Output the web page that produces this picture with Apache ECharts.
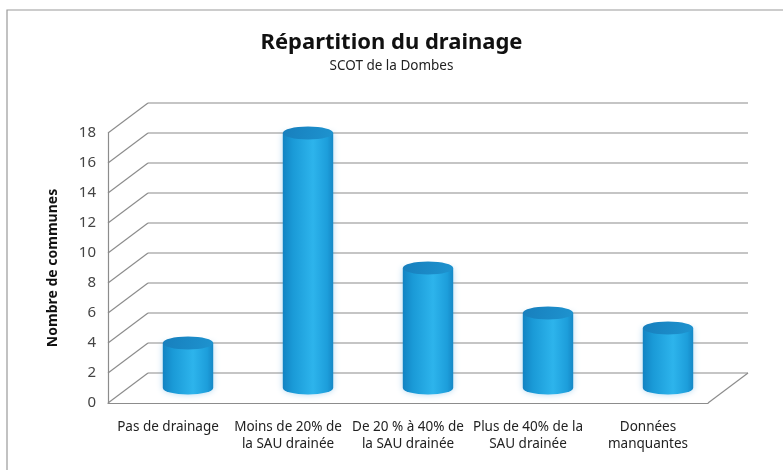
<!DOCTYPE html>
<html>
<head>
<meta charset="utf-8">
<script src="https://cdn.jsdelivr.net/npm/echarts@6/dist/echarts.min.js"></script>
<style>
  html, body { margin: 0; padding: 0; background: #fff; }
  #chart { width: 783px; height: 470px; }
</style>
</head>
<body>
<div id="chart"></div>
<script>
// Répartition du drainage — SCOT de la Dombes
const categories = [
  'Pas de drainage',
  'Moins de 20% de\nla SAU drainée',
  'De 20 % à 40% de\nla SAU drainée',
  'Plus de 40% de la\nSAU drainée',
  'Données\nmanquantes'
];
const communes = [3, 17, 8, 5, 4];
const yTicks = [0, 2, 4, 6, 8, 10, 12, 14, 16, 18];

const FONT = '"Noto Sans", "Open Sans", sans-serif';
// depth of the pseudo-3D box (back wall offset from front plane)
const DX = 40, DY = -30;
const LINE = '#8c8c8c';

const chart = echarts.init(document.getElementById('chart'));

function renderWalls(params, api) {
  const v = api.value(0);
  const cs = params.coordSys;
  const left = cs.x, right = cs.x + cs.width;
  const y = api.coord([0, v])[1];
  const style = { stroke: LINE, lineWidth: 1.2 };
  const children = [
    { type: 'line', shape: { x1: left + DX, y1: y + DY, x2: right + DX, y2: y + DY }, style },
    { type: 'line', shape: { x1: left, y1: y, x2: left + DX, y2: y + DY }, style }
  ];
  if (v === 0) {
    children.push({ type: 'line', shape: { x1: right, y1: y, x2: right + DX, y2: y + DY }, style });
  }
  return { type: 'group', children };
}

function renderCylinder(params, api) {
  const i = api.value(0);
  const top = api.coord([i, api.value(1)]);
  const base = api.coord([i, 0]);
  const band = api.size([1, 0])[0];
  const r = band * 0.21;
  const ry = 6.5;
  const cx = top[0] + DX / 2;
  const yT = top[1] + DY / 2;
  const yB = base[1] + DY / 2;
  const body = new echarts.graphic.LinearGradient(0, 0, 1, 0, [
    { offset: 0, color: '#1283c2' },
    { offset: 0.2, color: '#1a9ad7' },
    { offset: 0.6, color: '#2db4ec' },
    { offset: 0.88, color: '#1d9edb' },
    { offset: 1, color: '#1588c6' }
  ]);
  return {
    type: 'group',
    children: [
      {
        type: 'path',
        shape: {
          pathData: 'M' + (cx - r) + ',' + yT + 'L' + (cx - r) + ',' + yB +
            'A' + r + ',' + ry + ',0,0,0,' + (cx + r) + ',' + yB +
            'L' + (cx + r) + ',' + yT + 'Z'
        },
        style: { fill: body, shadowBlur: 6, shadowColor: 'rgba(30,140,210,0.35)' }
      },
      {
        type: 'ellipse',
        shape: { cx: cx, cy: yT, rx: r, ry: ry },
        style: {
          fill: new echarts.graphic.LinearGradient(0, 0, 1, 1, [
            { offset: 0, color: '#177fbd' },
            { offset: 1, color: '#1e93cf' }
          ])
        }
      }
    ]
  };
}

chart.setOption({
  backgroundColor: '#ffffff',
  animation: false,
  title: [
    {
      text: 'Répartition du drainage',
      left: 'center', top: 27,
      textStyle: { fontFamily: FONT, fontSize: 22, fontWeight: 'bold', color: '#111' }
    },
    {
      text: 'SCOT de la Dombes',
      left: 'center', top: 54,
      textStyle: { fontFamily: FONT, fontSize: 13.5, fontWeight: 'normal', color: '#222' }
    }
  ],
  graphic: [
    {
      type: 'rect', silent: true, z: -1,
      shape: { x: 7, y: 10, width: 800, height: 500 },
      style: { fill: 'none', stroke: '#9a9a9a', lineWidth: 1.2 }
    }
  ],
  grid: { left: 108, right: 75, top: 133, bottom: 67 },
  xAxis: {
    type: 'category',
    data: categories,
    axisLine: { show: true, lineStyle: { color: LINE, width: 1.2 } },
    axisTick: { show: false },
    axisLabel: {
      interval: 0, margin: 16,
      fontFamily: FONT, fontSize: 13.5, color: '#222', lineHeight: 17
    }
  },
  yAxis: {
    type: 'value',
    min: 0, max: 18, interval: 2,
    name: 'Nombre de communes',
    nameLocation: 'middle',
    nameGap: 48,
    nameTextStyle: { fontFamily: FONT, fontSize: 14, fontWeight: 'bold', color: '#111' },
    axisLine: { show: true, lineStyle: { color: LINE, width: 1.2 } },
    axisTick: { show: false },
    splitLine: { show: false },
    axisLabel: { margin: 12, fontFamily: FONT, fontSize: 15, color: '#444' }
  },
  series: [
    {
      type: 'custom',
      name: 'walls',
      renderItem: renderWalls,
      data: yTicks.map(v => [v]),
      encode: { y: 0 },
      silent: true,
      z: 1
    },
    {
      type: 'custom',
      name: 'Nombre de communes',
      renderItem: renderCylinder,
      data: communes.map((v, i) => [i, v]),
      encode: { x: 0, y: 1 },
      z: 5
    }
  ]
});
</script>
</body>
</html>
